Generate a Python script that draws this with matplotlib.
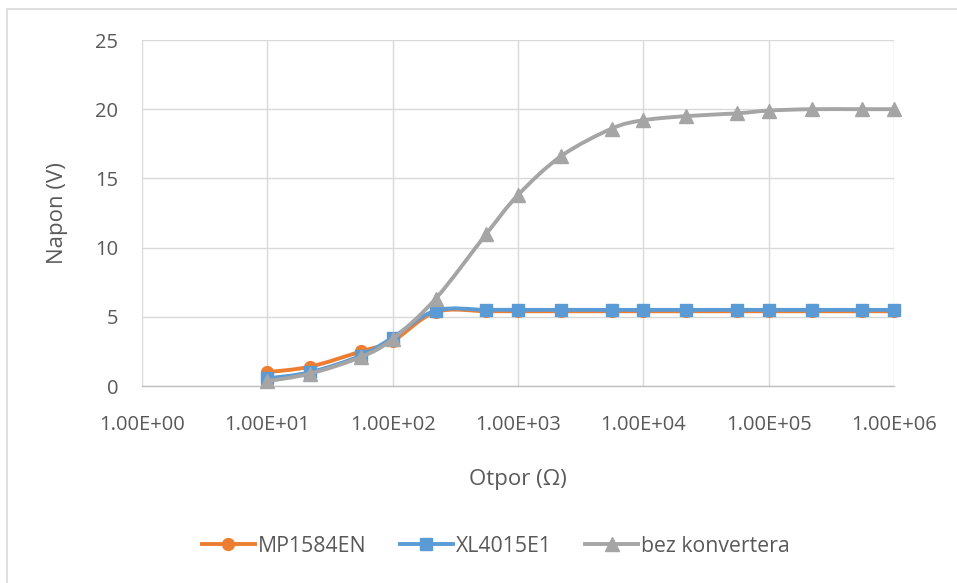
import numpy as np
import matplotlib
matplotlib.use("Agg")
import matplotlib.pyplot as plt
from matplotlib.path import Path
from matplotlib.patches import PathPatch, Rectangle
from matplotlib.lines import Line2D
from matplotlib.ticker import FuncFormatter, FixedLocator

plt.rcParams['font.family'] = ['Open Sans', 'DejaVu Sans']

# otpor (ohm) i napon (V)
otpor = [10, 22, 56, 100, 220, 560, 1000, 2200, 5600, 10000, 22000,
         56000, 100000, 220000, 560000, 1000000]
mp1584en = [1.0, 1.4, 2.5, 3.25, 5.35, 5.4, 5.4, 5.4, 5.4, 5.4, 5.4,
            5.4, 5.4, 5.4, 5.4, 5.4]
xl4015e1 = [0.55, 1.0, 2.2, 3.5, 5.45, 5.5, 5.5, 5.5, 5.5, 5.5, 5.5,
            5.5, 5.5, 5.5, 5.5, 5.5]
bez_konv = [0.35, 0.9, 2.1, 3.4, 6.3, 11.0, 13.8, 16.6, 18.6, 19.2, 19.5,
            19.7, 19.9, 20.0, 20.0, 20.0]

names = ["MP1584EN", "XL4015E1", "bez konvertera"]
colors = ["#ED7D31", "#5B9BD5", "#A5A5A5"]
markers = ["o", "s", "^"]
x_ticks = [1, 10, 100, 1000, 10000, 100000, 1000000]
y_ticks = [0, 5, 10, 15, 20, 25]

txt = "#595959"


def smooth_path(xs, ys):
    # excel-like smoothed line: bezier between points, tension 1/6, in log-x space
    lx = np.log10(xs)
    ys = np.asarray(ys, float)
    p = np.column_stack([lx, ys])
    n = len(p)
    verts = [p[0]]
    codes = [Path.MOVETO]
    for i in range(n - 1):
        p0 = p[i - 1] if i > 0 else p[i]
        p3 = p[i + 2] if i + 2 < n else p[i + 1]
        c1 = p[i] + (p[i + 1] - p0) / 6.0
        c2 = p[i + 1] - (p3 - p[i]) / 6.0
        verts += [c1, c2, p[i + 1]]
        codes += [Path.CURVE4] * 3
    verts = np.array(verts)
    verts[:, 0] = 10 ** verts[:, 0]
    return Path(verts, codes)


fig = plt.figure(figsize=(9.57, 5.83), dpi=100)
ax = fig.add_axes([142 / 957, 1 - 386 / 583, (894 - 142) / 957, (386 - 40) / 583])

ax.set_xscale("log")
ax.set_xlim(1, 1e6)
ax.set_ylim(0, 25)

series = [mp1584en, xl4015e1, bez_konv]
handles = []
for k, ys in enumerate(series):
    patch = PathPatch(smooth_path(otpor, ys), facecolor="none", edgecolor=colors[k],
                      lw=2.8, zorder=3 + k, capstyle="round", joinstyle="round")
    ax.add_patch(patch)
    ms = {"o": 8.5, "s": 8.0, "^": 9.5}[markers[k]]
    ax.plot(otpor, ys, linestyle="none", marker=markers[k], ms=ms,
            color=colors[k], zorder=3 + k, clip_on=False)
    handles.append(Line2D([], [], color=colors[k], lw=2.8, marker=markers[k], ms=ms))

ax.xaxis.set_major_locator(FixedLocator(x_ticks))
ax.xaxis.set_minor_locator(FixedLocator([]))
ax.xaxis.set_major_formatter(FuncFormatter(lambda v, pos: f"{v:.2E}"))
ax.set_yticks(y_ticks)

ax.grid(True, color="#D9D9D9", lw=1.0, zorder=0)
ax.set_axisbelow(True)
for s in ["top", "right", "left"]:
    ax.spines[s].set_visible(False)
ax.spines["bottom"].set_color("#BFBFBF")
ax.spines["bottom"].set_linewidth(1.0)
ax.spines["bottom"].set_zorder(2)

ax.tick_params(axis="both", length=0, labelsize=14.5, colors=txt)
ax.tick_params(axis="x", pad=21)
ax.tick_params(axis="y", pad=17)

fig.text(518 / 957, 1 - 479 / 583, "Otpor (Ω)", ha="center", va="center",
         fontsize=16, color=txt)
fig.text(57 / 957, 1 - 213 / 583, "Napon (V)", ha="center", va="center",
         fontsize=16, color=txt, rotation=90)

fig.legend(handles, names, loc="center", bbox_to_anchor=(496 / 957, 1 - 546 / 583),
           ncol=3, frameon=False, fontsize=15.3, labelcolor=txt,
           handlelength=2.5, handletextpad=0.15, columnspacing=1.55)

fig.patches.append(Rectangle((7.5 / 957, -0.1), 1.2, 1.1 - 9.5 / 583 + 0.0,
                             transform=fig.transFigure, fill=False,
                             edgecolor="#D9D9D9", lw=1.2, figure=fig))

fig.savefig("out.png", dpi=100)
